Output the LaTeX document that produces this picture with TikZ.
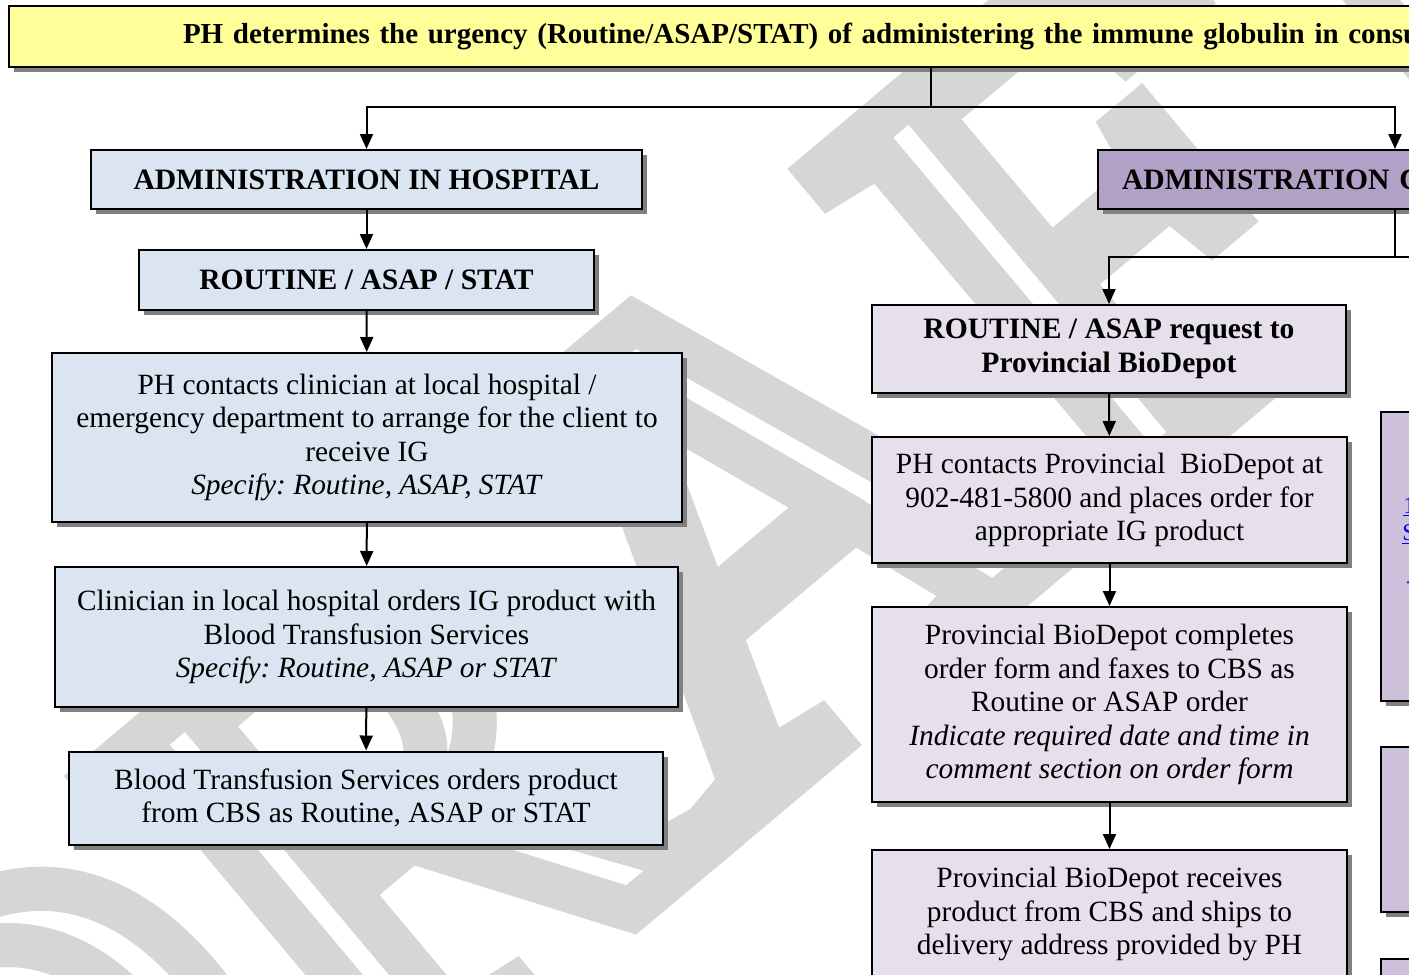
\documentclass[tikz,border=0pt]{standalone}
\usepackage{fontspec}
\setmainfont{Liberation Serif}
\usetikzlibrary{arrows.meta,shadows}
\definecolor{urgyellow}{HTML}{FFFF99}
\definecolor{hospblue}{HTML}{DBE5F1}
\definecolor{commpurple}{HTML}{B2A1C7}
\definecolor{depotlilac}{HTML}{E5E0EC}
\definecolor{sidelilac}{HTML}{CCC0DA}
\definecolor{shadowgray}{HTML}{808080}
\frenchspacing

\begin{document}
\begin{tikzpicture}[x=0.5pt, y=-0.5pt,
    box/.style={draw=black, line width=1pt, align=center, inner sep=0pt,
        font=\fontsize{14.7}{16.75}\selectfont,
        drop shadow={shadow xshift=2.5pt, shadow yshift=-2.5pt, fill=shadowgray, opacity=1}},
    headbox/.style={box, font=\fontsize{14.8}{17}\selectfont\bfseries},
    arrow/.style={line width=1pt, -{Triangle[length=7.5pt, width=6.5pt]}},
    link/.style={line width=1pt}]
  \useasboundingbox (0,0) rectangle (1409,975);
  \clip (0,0) rectangle (1409,975);
  % watermark behind everything, outlined letters
  \node[rotate=40, inner sep=0pt, font=\fontsize{340}{340}\selectfont] (draft) at (700,560)
        {\special{pdf:literal direct 1 Tr 22 w 0.84 G}DRAFT\special{pdf:literal direct 0 Tr}};

  % top box
  \node[headbox, fill=urgyellow, anchor=north west, minimum height=30.5pt,
        text width=900pt, inner xsep=87pt, align=left, font=\fontsize{14.5}{17}\selectfont\bfseries] (urgency) at (8,5)
        {PH determines the urgency (Routine/ASAP/STAT) of administering the immune globulin in consu};

  % hospital branch
  \node[headbox, fill=hospblue, minimum width=275.5pt, minimum height=29.5pt] (hosp) at (366.5,179.5) {ADMINISTRATION IN HOSPITAL};
  \node[headbox, fill=hospblue, minimum width=227.5pt, minimum height=30pt] (rout) at (366.5,280) {ROUTINE / ASAP / STAT};
  \node[box, fill=hospblue, minimum width=315pt, minimum height=84.5pt] (phclin) at (367,437.5)
        {PH contacts clinician at local hospital /\\ emergency department to arrange for the client to\\ receive IG\\ \textit{Specify: Routine, ASAP, STAT}};
  \node[box, fill=hospblue, minimum width=311.5pt, minimum height=70pt] (clin) at (366.5,637)
        {Clinician in local hospital orders IG product with\\ Blood Transfusion Services\\ \textit{Specify: Routine, ASAP or STAT}};
  \node[box, fill=hospblue, minimum width=297pt, minimum height=46.5pt] (bts) at (366,798)
        {Blood Transfusion Services orders product\\ from CBS as Routine, ASAP or STAT};

  % community branch
  \node[headbox, fill=commpurple, minimum width=297pt, minimum height=29.5pt,
        text width=273pt, inner xsep=12pt, align=left] (admC) at (1395,179.5) {ADMINISTRATION C};
  \node[headbox, fill=depotlilac, minimum width=237pt, minimum height=44pt] (req) at (1109,349)
        {ROUTINE / ASAP request to\\ Provincial BioDepot};
  \node[box, fill=depotlilac, minimum width=237.5pt, minimum height=63pt] (phbio) at (1109.5,500)
        {PH contacts Provincial\ \ BioDepot at\\ 902-481-5800 and places order for\\ appropriate IG product};
  \node[box, fill=depotlilac, minimum width=237.5pt, minimum height=97.5pt] (comp) at (1109.5,704.5)
        {Provincial BioDepot completes\\ order form and faxes to CBS as\\ Routine or ASAP order\\
         \textit{Indicate required date and time in}\\ \textit{comment section on order form}};
  \node[box, fill=depotlilac, minimum width=237.5pt, minimum height=64pt, anchor=north] (recv) at (1109.5,849)
        {Provincial BioDepot receives\\ product from CBS and ships to\\ delivery address provided by PH};

  % boxes cut by the right edge
  \node[box, fill=sidelilac, anchor=north west, minimum width=100pt, minimum height=144.5pt] (sideA) at (1380,411) {};
  \node[box, fill=sidelilac, anchor=north west, minimum width=100pt, minimum height=82.5pt] (sideB) at (1380,746) {};
  \node[box, fill=sidelilac, anchor=north west, minimum width=100pt, minimum height=40pt] (sideC) at (1380,958) {};
  \node[text=blue, anchor=base west, inner sep=0pt, font=\fontsize{12}{13.5}\selectfont] (linkA) at (1403,513) {\underline{1}};
  \node[text=blue, anchor=base west, inner sep=0pt, font=\fontsize{12}{13.5}\selectfont] (linkB) at (1402,540) {\underline{S}};
  \node[text=blue, anchor=base west, inner sep=0pt, font=\fontsize{12}{13.5}\selectfont] (linkC) at (1406,588) {-};

  % connectors
  \coordinate (split) at (931,107);
  \draw[link] (split |- urgency.south) -- (split);
  \draw[arrow] (split) -| (hosp.north);
  \draw[arrow] (split) -| (admC.north);
  \draw[arrow] (hosp) -- (rout);
  \draw[arrow] (rout) -- (phclin);
  \draw[arrow] (phclin) -- (clin);
  \draw[arrow] (clin) -- (bts);

  \coordinate (split2) at (1395,257);
  \coordinate (offpage) at (1440,257);
  \draw[link] (admC.south) -- (split2);
  \draw[link] (split2) -- (offpage);
  \draw[arrow] (split2) -| (req.north);
  \draw[arrow] (req) -- (phbio);
  \draw[arrow] (phbio) -- (comp);
  \draw[arrow] (comp) -- (recv);
\end{tikzpicture}
\end{document}
